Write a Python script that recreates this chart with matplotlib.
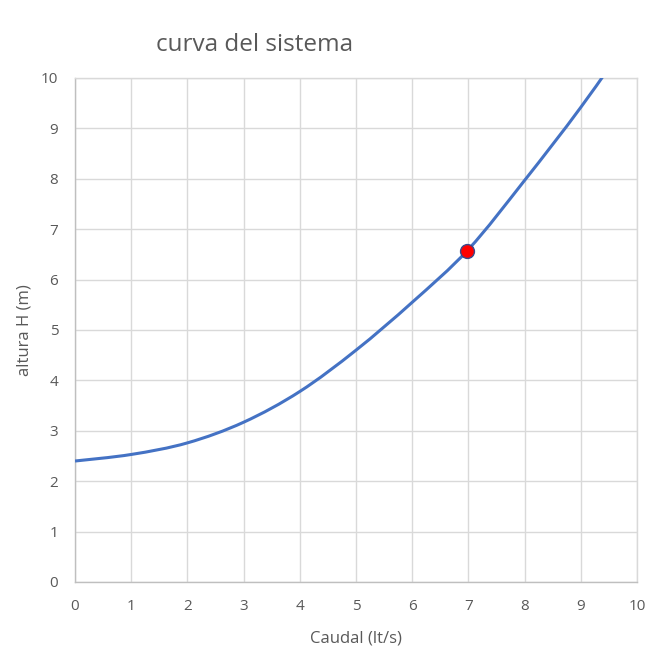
import numpy as np
import matplotlib.pyplot as plt
from matplotlib.path import Path
from matplotlib.patches import PathPatch

# curva del sistema
caudal = [0, 1, 2, 3, 4, 5, 6, 7, 8, 9, 10]
altura = [2.40, 2.53, 2.76, 3.17, 3.78, 4.60, 5.55, 6.60, 7.97, 9.42, 11.0]

# punto de operacion
punto_q = [6.97]
punto_h = [6.56]

x_ticks = list(range(0, 11))
y_ticks = list(range(0, 11))


def smooth_path(xs, ys):
    """Bezier path through the points, like the smoothed line in Excel."""
    xs = np.asarray(xs, float)
    ys = np.asarray(ys, float)
    n = len(xs)
    verts = [(xs[0], ys[0])]
    codes = [Path.MOVETO]
    for i in range(n - 1):
        x0, y0 = (xs[i - 1], ys[i - 1]) if i > 0 else (xs[i], ys[i])
        x3, y3 = (xs[i + 2], ys[i + 2]) if i + 2 < n else (xs[i + 1], ys[i + 1])
        c1 = (xs[i] + (xs[i + 1] - x0) / 6, ys[i] + (ys[i + 1] - y0) / 6)
        c2 = (xs[i + 1] - (x3 - xs[i]) / 6, ys[i + 1] - (y3 - ys[i]) / 6)
        verts += [c1, c2, (xs[i + 1], ys[i + 1])]
        codes += [Path.CURVE4] * 3
    return Path(verts, codes)


plt.rcParams['font.family'] = ['Open Sans', 'DejaVu Sans']
gris = '#595959'

fig = plt.figure(figsize=(6.65, 6.52), dpi=100)
ax = fig.add_axes([0.1128, 0.1074, 0.8452, 0.773])

ax.add_patch(PathPatch(smooth_path(caudal, altura), facecolor='none',
                       edgecolor='#4472C4', lw=2.2, zorder=3, clip_on=True))
ax.plot(punto_q, punto_h, 'o', color='#FF0000', markersize=10,
        markeredgecolor='#3B4A8C', markeredgewidth=1.0, zorder=4)

ax.set_xlim(0, 10)
ax.set_ylim(0, 10)
ax.set_xticks(x_ticks)
ax.set_yticks(y_ticks)
ax.grid(True, color='#d9d9d9', lw=1.0)
ax.set_axisbelow(True)
ax.tick_params(length=0, labelsize=11, labelcolor=gris)
ax.tick_params(axis='y', pad=12)
ax.tick_params(axis='x', pad=12)

for s in ['top', 'right']:
    ax.spines[s].set_color('#d9d9d9')
for s in ['left', 'bottom']:
    ax.spines[s].set_color('#bfbfbf')
for s in ax.spines.values():
    s.set_linewidth(1.0)

ax.set_xlabel('Caudal (lt/s)', fontsize=12, color=gris, labelpad=12)
ax.set_ylabel('altura H (m)', fontsize=12, color=gris, labelpad=6)
fig.text(0.383, 0.931, 'curva del sistema', fontsize=17.5, color=gris,
         ha='center', va='center')

fig.savefig('out.png', dpi=100)
